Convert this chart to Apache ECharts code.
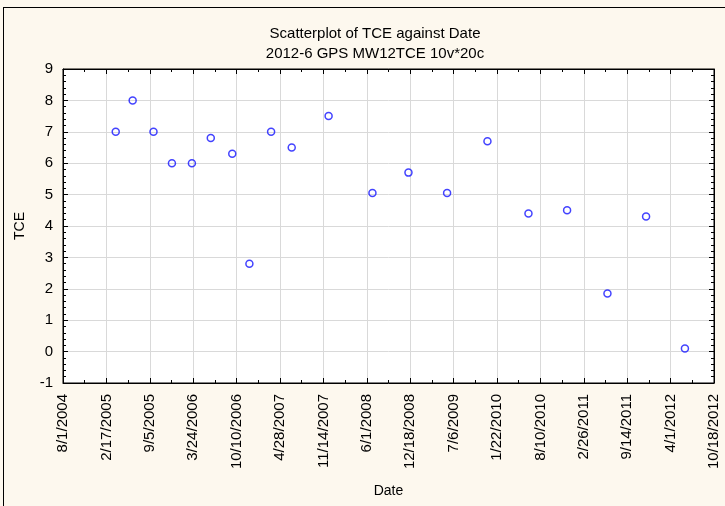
<!DOCTYPE html>
<html>
<head>
<meta charset="utf-8">
<script src="https://cdn.jsdelivr.net/npm/echarts@6/dist/echarts.min.js"></script>
<style>
html,body{margin:0;padding:0;background:#fdf8ee;}
#frame{position:absolute;left:3px;top:7px;width:722px;height:499px;border-left:1px solid #000;border-top:1px solid #000;box-sizing:border-box;}
#chart{position:absolute;left:0;top:0;width:725px;height:506px;}
</style>
</head>
<body>
<div id="frame"></div>
<div id="chart"></div>
<script>
// ---- data ----
var titleText = "Scatterplot of TCE against Date";
var subTitleText = "2012-6 GPS MW12TCE 10v*20c";
var xName = "Date";
var yName = "TCE";
var axisStartDate = "2004-08-01";   // first x tick (8/1/2004)
var axisEndDate = "2012-10-18";     // last x tick (10/18/2012)
var xTickDays = 200;                // spacing of x ticks in days
var dates = ["2005-04-01","2005-06-18","2005-09-22","2005-12-16","2006-03-18",
             "2006-06-13","2006-09-20","2006-12-08","2007-03-18","2007-06-21",
             "2007-12-08","2008-06-27","2008-12-10","2009-06-06","2009-12-09",
             "2010-06-16","2010-12-11","2011-06-15","2011-12-10","2012-06-06"];
var tce = [7, 8, 7, 6, 6,
           6.8, 6.3, 2.8, 7, 6.5,
           7.5, 5.05, 5.7, 5.05, 6.7,
           4.4, 4.5, 1.85, 4.3, 0.1];
var yMin = -1, yMax = 9, yStep = 1;

// ---- helpers ----
var DAY = 86400000;
var t0 = Date.parse(axisStartDate + "T00:00:00Z");
function dayOffset(s){ return Math.round((Date.parse(s + "T00:00:00Z") - t0) / DAY); }
function fmtDay(v){
  var d = new Date(t0 + v * DAY);
  return (d.getUTCMonth()+1) + "/" + d.getUTCDate() + "/" + d.getUTCFullYear();
}
var xMax = dayOffset(axisEndDate);
var points = dates.map(function(d,i){ return [dayOffset(d), tce[i]]; });

var font = "Liberation Sans, Arial, sans-serif";
var chart = echarts.init(document.getElementById('chart'), null, {renderer:'canvas'});

var tickStyle = {show:true, inside:true, length:5, lineStyle:{color:'#000', width:1}};
function axisLine(){ return {show: true, onZero: false, lineStyle: {color: '#000', width: 1}}; }

chart.setOption({
  backgroundColor: 'transparent',
  animation: false,
  title: {
    text: titleText,
    subtext: subTitleText,
    left: 370,
    textAlign: 'center',
    top: 21,
    itemGap: 5,
    textStyle: {fontFamily: font, fontSize: 15, fontWeight: 'normal', color: '#000'},
    subtextStyle: {fontFamily: font, fontSize: 15, color: '#000'}
  },
  grid: {
    left: 63, top: 69, width: 651, height: 314,
    show: true, backgroundColor: '#fff', borderColor: '#000', borderWidth: 1,
    containLabel: false
  },
  xAxis: [{
    type: 'value', min: 0, max: xMax, interval: xTickDays,
    position: 'bottom',
    name: xName, nameLocation: 'middle', nameGap: 101,
    nameTextStyle: {fontFamily: font, fontSize: 14, color: '#000'},
    axisLine: axisLine(),
    axisTick: tickStyle,
    minorTick: {show: true, splitNumber: 2, length: 3, lineStyle: {color:'#000'}},
    axisLabel: {rotate: 90, margin: 11, fontFamily: font, fontSize: 15, color: '#000',
                formatter: function(v){ return fmtDay(v); }, showMinLabel: true, showMaxLabel: true},
    splitLine: {show: true, lineStyle: {color: '#d9d9d9', width: 1}}
  },{
    type: 'value', min: 0, max: xMax, interval: xTickDays,
    position: 'top',
    axisLine: axisLine(),
    axisTick: tickStyle,
    minorTick: {show: true, splitNumber: 2, length: 3, lineStyle: {color:'#000'}},
    axisLabel: {show: false},
    splitLine: {show: false}
  }],
  yAxis: [{
    type: 'value', min: yMin, max: yMax, interval: yStep,
    position: 'left',
    name: yName, nameLocation: 'middle', nameGap: 36, nameRotate: 90,
    nameTextStyle: {fontFamily: font, fontSize: 14, color: '#000'},
    axisLine: axisLine(),
    axisTick: tickStyle,
    minorTick: {show: true, splitNumber: 5, length: 3, lineStyle: {color:'#000'}},
    axisLabel: {margin: 10, fontFamily: font, fontSize: 15, color: '#000'},
    splitLine: {show: true, lineStyle: {color: '#d9d9d9', width: 1}}
  },{
    type: 'value', min: yMin, max: yMax, interval: yStep,
    position: 'right',
    axisLine: axisLine(),
    axisTick: tickStyle,
    minorTick: {show: true, splitNumber: 5, length: 3, lineStyle: {color:'#000'}},
    axisLabel: {show: false},
    splitLine: {show: false}
  }],
  series: [{
    type: 'scatter',
    xAxisIndex: 0, yAxisIndex: 0,
    data: points,
    symbol: 'circle',
    symbolSize: 7,
    itemStyle: {color: 'rgba(0,0,0,0)', borderColor: '#1414ff', borderWidth: 1.5}
  }]
});
</script>
</body>
</html>
